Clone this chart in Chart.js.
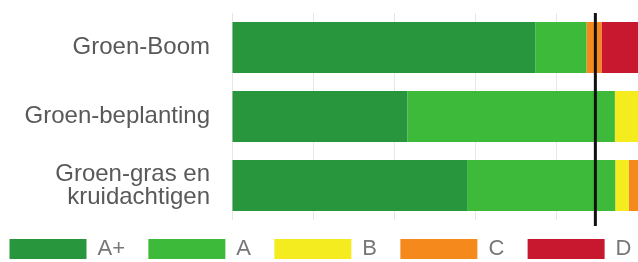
<!DOCTYPE html>
<html>
<head>
<meta charset="utf-8">
<script src="https://cdn.jsdelivr.net/npm/chart.js@4/dist/chart.umd.min.js"></script>
<style>
  html, body { margin: 0; padding: 0; background: #fff; }
  #wrap { width: 638px; height: 262px; }
</style>
</head>
<body>
<div id="wrap"><canvas id="chart"></canvas></div>
<script>
// Categories and series (percentages per label)
const categories = ['Groen-Boom', 'Groen-beplanting', ['Groen-gras en', 'kruidachtigen']];
const seriesNames = ['A+', 'A', 'B', 'C', 'D'];
const valuesAPlus = [74.7, 43.2, 57.9];
const valuesA = [12.6, 51.1, 36.5];
const valuesB = [0, 5.7, 3.3];
const valuesC = [3.7, 0, 2.3];
const valuesD = [9.0, 0, 0];
const xTicks = [0, 20, 40, 60, 80, 100];
const targetValue = 89.5;

const colors = ['#28963d', '#3dba3a', '#f5ec1f', '#f5891b', '#c8182f'];
const seriesValues = [valuesAPlus, valuesA, valuesB, valuesC, valuesD];

// Vertical target line
const targetLine = {
  id: 'targetLine',
  afterDatasetsDraw(chart) {
    const { ctx, chartArea, scales } = chart;
    const x = scales.x.getPixelForValue(targetValue);
    ctx.save();
    ctx.strokeStyle = '#111';
    ctx.lineWidth = 3;
    ctx.beginPath();
    ctx.moveTo(x, chartArea.top);
    ctx.lineTo(x, chartArea.bottom + 6);
    ctx.stroke();
    ctx.restore();
  }
};

// Keep legend on one row with a fixed height
const legendFit = {
  id: 'legendFit',
  beforeInit(chart) {
    chart.legend.afterFit = function () {
      this.height = 42;
    };
  }
};

new Chart(document.getElementById('chart'), {
  type: 'bar',
  data: {
    labels: categories,
    datasets: seriesNames.map((name, i) => ({
      label: name,
      data: seriesValues[i],
      backgroundColor: colors[i],
      borderWidth: 0,
      barPercentage: 0.74,
      categoryPercentage: 1
    }))
  },
  options: {
    indexAxis: 'y',
    responsive: true,
    maintainAspectRatio: false,
    animation: false,
    layout: {
      padding: { top: 13, right: 0, left: 3, bottom: -8 }
    },
    plugins: {
      tooltip: { enabled: false },
      legend: {
        position: 'bottom',
        labels: {
          boxWidth: 77,
          boxHeight: 20,
          padding: 5,
          color: '#777',
          font: { family: 'Liberation Sans', size: 22 },
          generateLabels(chart) {
            return chart.data.datasets.map((ds, i) => ({
              text: i < chart.data.datasets.length - 1 ? ds.label + '   ' : ds.label,
              fillStyle: ds.backgroundColor,
              strokeStyle: ds.backgroundColor,
              fontColor: '#777',
              lineWidth: 0,
              hidden: false,
              datasetIndex: i
            }));
          }
        }
      }
    },
    scales: {
      x: {
        stacked: true,
        min: 0,
        max: 100,
        afterBuildTicks(scale) {
          scale.ticks = xTicks.map(v => ({ value: v }));
        },
        afterFit(scale) {
          scale.height = 13;
        },
        ticks: { display: false },
        border: { display: false },
        grid: { color: '#e6e6e6', drawTicks: false }
      },
      y: {
        stacked: true,
        afterFit(scale) {
          scale.width = 229;
          scale.paddingTop = 0;
          scale.paddingBottom = 0;
        },
        border: { display: false },
        grid: { display: false, drawTicks: false },
        ticks: {
          padding: 22,
          color: '#595959',
          font: { family: 'Liberation Sans', size: 24, lineHeight: 0.95 }
        }
      }
    }
  },
  plugins: [targetLine, legendFit]
});
</script>
</body>
</html>
